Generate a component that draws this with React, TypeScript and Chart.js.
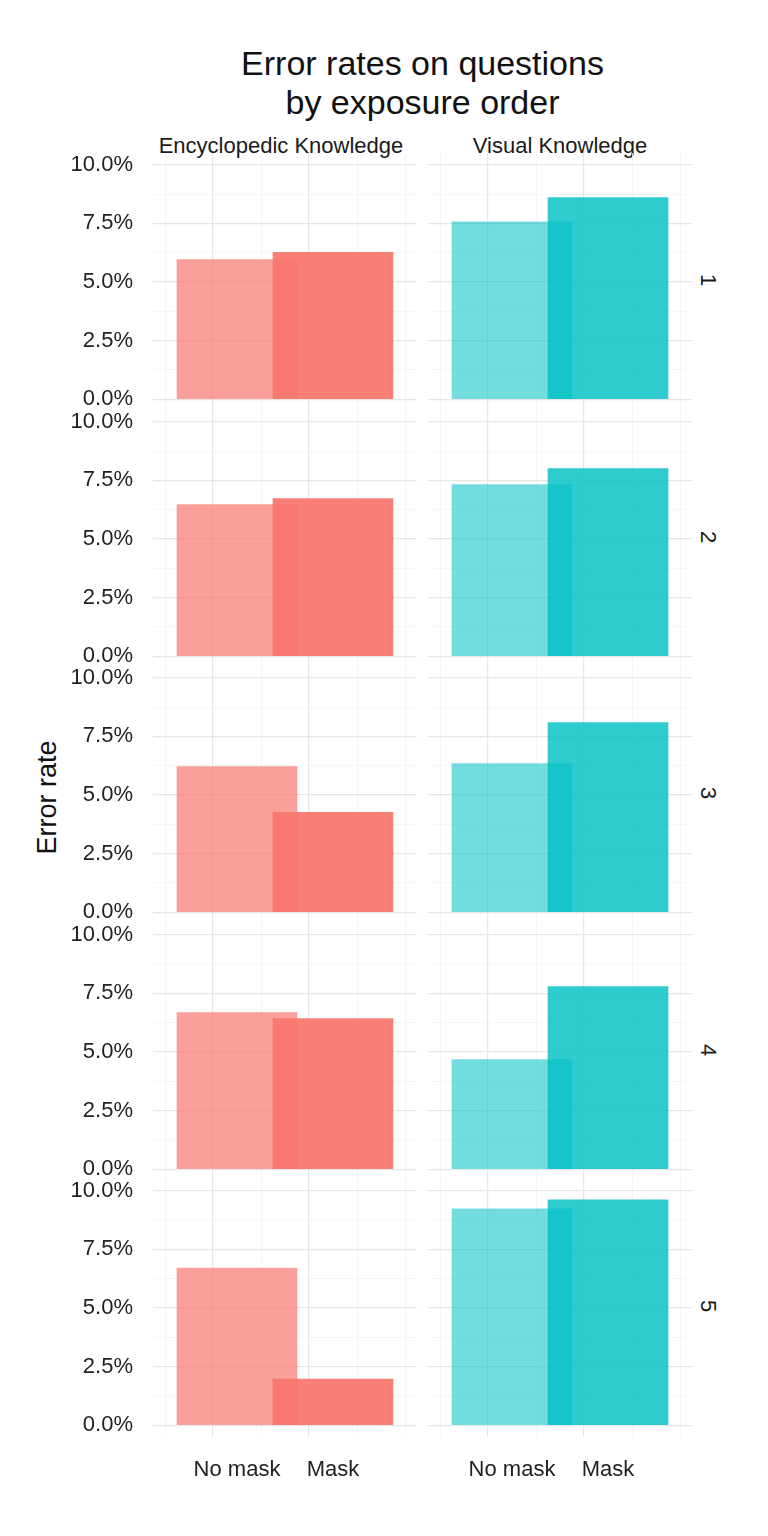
import { useEffect, useRef } from 'react'
import { Chart, registerables } from 'chart.js'

Chart.register(...registerables)

const maskLevels = ['No mask', 'Mask']
const knowledgeTypes = ['Encyclopedic Knowledge', 'Visual Knowledge']
const exposureOrders = ['1', '2', '3', '4', '5']
// error rate (%) per exposure order, [No mask, Mask]
const encyclopedicRates = [
  [5.96, 6.26],
  [6.47, 6.72],
  [6.21, 4.26],
  [6.68, 6.43],
  [6.7, 1.97]
]
const visualRates = [
  [7.57, 8.6],
  [7.32, 8.0],
  [6.34, 8.09],
  [4.68, 7.79],
  [9.23, 9.61]
]
const yTicks = [0, 1.25, 2.5, 3.75, 5, 6.25, 7.5, 8.75, 10]
const xTicks = [0.5, 1, 1.5, 2, 2.5]

const FONT = '"Liberation Sans", Arial, sans-serif'
const PANEL_W = 264
const PANEL_H = 258
const ROW_STEP = 256.5
const PANEL_TOP = 153
const LEFT_X = 153
const RIGHT_X = 428
const Y_LABEL_W = 113
const X_LABEL_H = 52

const colors = [
  ['rgba(248,118,109,0.7)', 'rgba(248,118,109,0.93)'],
  ['rgba(0,191,196,0.55)', 'rgba(0,191,196,0.82)']
]

function Panel({ col, row }: { col: number; row: number }) {
  const ref = useRef<HTMLCanvasElement>(null)
  const showY = col === 0
  const showX = row === exposureOrders.length - 1
  const left = (col === 0 ? LEFT_X : RIGHT_X) - (showY ? Y_LABEL_W : 0)
  const top = PANEL_TOP + row * ROW_STEP
  const width = PANEL_W + (showY ? Y_LABEL_W : 0)
  const height = PANEL_H + (showX ? X_LABEL_H : 0)

  useEffect(() => {
    if (!ref.current) return
    const rates = col === 0 ? encyclopedicRates[row] : visualRates[row]
    const config: any = {
      type: 'bar',
      data: {
        datasets: [
          {
            data: rates.map((v, i) => ({ x: i + 1, y: v })),
            backgroundColor: colors[col],
            barThickness: PANEL_W / 2.2,
            borderWidth: 0
          }
        ]
      },
      options: {
        animation: false,
        responsive: false,
        layout: { padding: 0 },
        plugins: { legend: { display: false }, tooltip: { enabled: false } },
        scales: {
          x: {
            type: 'linear',
            min: 0.4,
            max: 2.6,
            afterBuildTicks: (s: any) => { s.ticks = xTicks.map(v => ({ value: v })) },
            afterFit: (s: any) => {
              s.height = showX ? X_LABEL_H : 0
              s.paddingLeft = 0
              s.paddingRight = 0
            },
            border: { display: false },
            grid: {
              drawTicks: false,
              color: (c: any) => (Number.isInteger(c.tick?.value) ? '#e6e6e6' : '#f4f4f4'),
              lineWidth: (c: any) => (Number.isInteger(c.tick?.value) ? 1.2 : 0.8)
            },
            ticks: {
              display: showX,
              padding: 20,
              autoSkip: false,
              maxRotation: 0,
              color: '#222',
              font: { family: FONT, size: 22 },
              callback: (v: number) => (Number.isInteger(v) ? maskLevels[v - 1] : '')
            }
          },
          y: {
            min: -0.5,
            max: 10.5,
            afterBuildTicks: (s: any) => { s.ticks = yTicks.map(v => ({ value: v })) },
            afterFit: (s: any) => {
              s.width = showY ? Y_LABEL_W : 0
              s.paddingTop = 0
              s.paddingBottom = 0
            },
            border: { display: false },
            grid: {
              drawTicks: false,
              color: (c: any) => ((c.tick?.value ?? 0) % 2.5 === 0 ? '#e6e6e6' : '#f4f4f4'),
              lineWidth: (c: any) => ((c.tick?.value ?? 0) % 2.5 === 0 ? 1.2 : 0.8)
            },
            ticks: {
              display: showY,
              padding: 20,
              autoSkip: false,
              color: '#222',
              font: { family: FONT, size: 22 },
              callback: (v: number) => (v % 2.5 === 0 ? v.toFixed(1) + '%' : '')
            }
          }
        }
      }
    }
    const chart = new Chart(ref.current, config)
    return () => chart.destroy()
  }, [col, row])

  return (
    <canvas
      ref={ref}
      width={width}
      height={height}
      style={{ position: 'absolute', left, top, width, height }}
    />
  )
}

export default function App() {
  const text = { position: 'absolute' as const, fontFamily: FONT, color: '#1a1a1a', whiteSpace: 'nowrap' as const }
  return (
    <div style={{ position: 'absolute', left: 0, top: 0, width: 768, height: 1536, background: '#fff', overflow: 'hidden' }}>
      <div style={{ ...text, left: 0, width: 845, top: 44, textAlign: 'center', fontSize: 34, lineHeight: '39px', color: '#111' }}>
        Error rates on questions<br />by exposure order
      </div>
      {knowledgeTypes.map((k, c) => (
        <div key={k} style={{ ...text, left: c === 0 ? LEFT_X - 4 : RIGHT_X, width: PANEL_W, top: 133, overflow: 'hidden', textAlign: 'center', fontSize: 22 }}>
          {k}
        </div>
      ))}
      {exposureOrders.map((o, r) => (
        <div key={o} style={{ ...text, left: 702, top: PANEL_TOP + r * ROW_STEP + 114, fontSize: 22, transform: 'rotate(90deg)' }}>
          {o}
        </div>
      ))}
      <div style={{ ...text, left: -10, top: 782, fontSize: 27, transform: 'rotate(-90deg)', color: '#111' }}>
        Error rate
      </div>
      {exposureOrders.map((o, r) =>
        knowledgeTypes.map((k, c) => <Panel key={o + k} col={c} row={r} />)
      )}
    </div>
  )
}
